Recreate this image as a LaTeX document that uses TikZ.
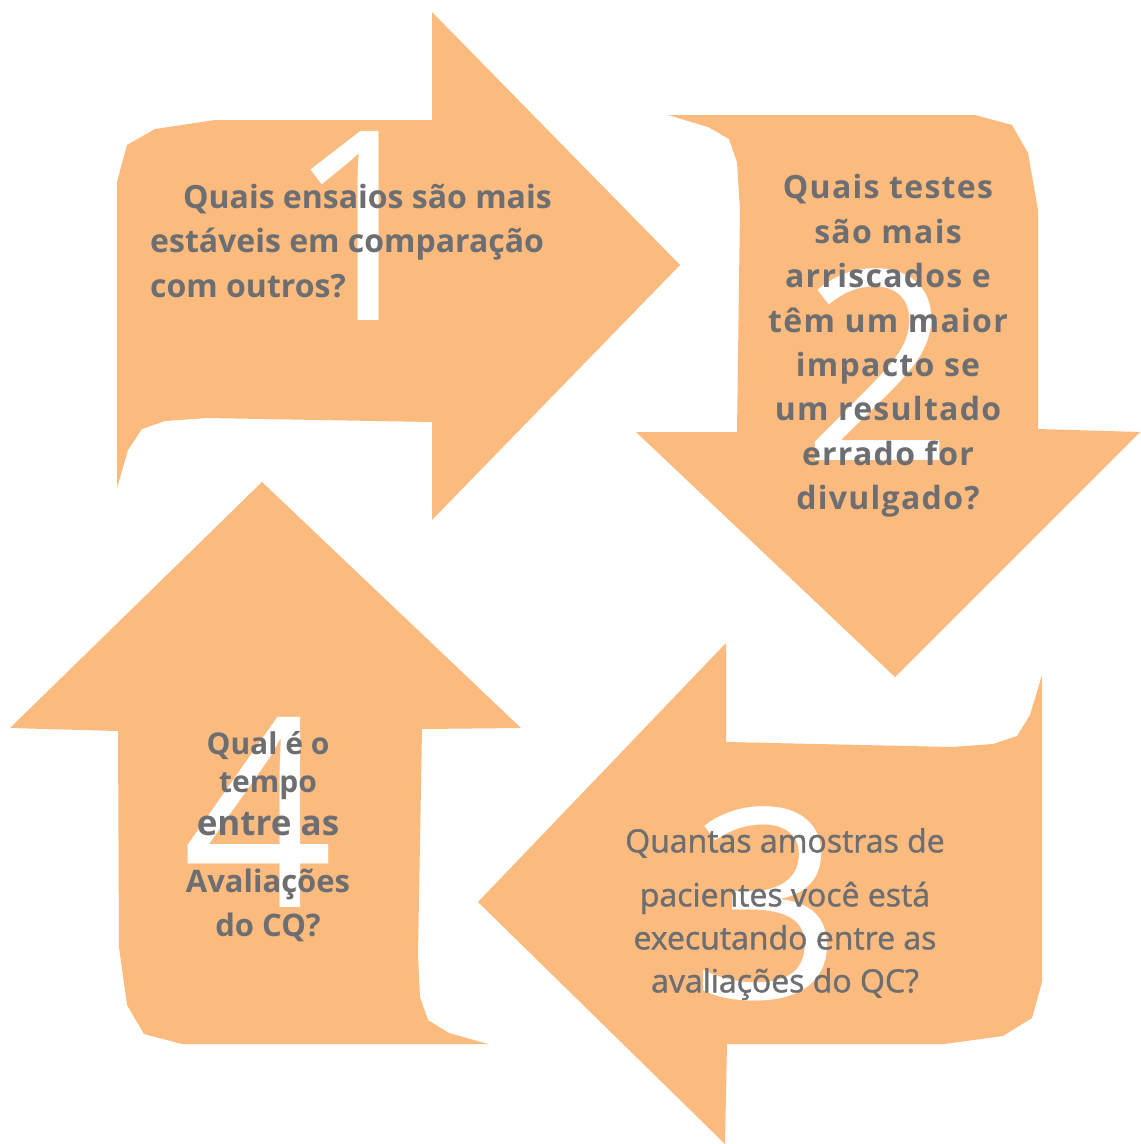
\documentclass[tikz,border=0pt]{standalone}
\usepackage{fontspec}
\setmainfont{Open Sans}
\newfontfamily\numfont{Open Sans}
\definecolor{arrowfill}{HTML}{FBBA7E}
\definecolor{txtgray}{HTML}{6D6E71}
\begin{document}
\begin{tikzpicture}[x=1pt,y=-1pt,
  shapefill/.style={fill=arrowfill,draw=none},
  bignum/.style={text=white,font=\numfont\fontsize{265}{265}\selectfont,inner sep=0pt,anchor=base},
  qtext/.style={text=txtgray,inner sep=0pt,font=\bfseries\fontsize{32}{44.4}\selectfont}]
\useasboundingbox (0,0) rectangle (1141,1144);
% arrow 1 (right)
\path[shapefill] (117,488) -- (128,450) -- (142,429) -- (165,421) -- (207,418) -- (432,422) -- (432,520) -- (680,265) -- (432,12) -- (432,120) -- (215,120) -- (155,129) -- (127,145) -- (117,182) -- cycle;
% arrow 2 (down)
\path[shapefill] (668,115) -- (975,115) -- (1012,125) -- (1028,153) -- (1038,210) -- (1038,429) -- (1140,432) -- (895,677) -- (636,432) -- (737,432) -- (740,210) -- (737,162) -- (729,139) -- (708,127) -- cycle;
% arrow 3 (left)
\path[shapefill] (726,742) -- (952,747) -- (993,744) -- (1017,736) -- (1030,715) -- (1042,675) -- (1042,982) -- (1032,1018) -- (1003,1036) -- (944,1044) -- (727,1044) -- (725,1144) -- (478,902) -- (726,643) -- cycle;
% arrow 4 (up)
\path[shapefill] (262,482) -- (521,728) -- (422,729) -- (418,955) -- (420,997) -- (428,1020) -- (449,1033) -- (488,1044) -- (182,1044) -- (144,1034) -- (127,1005) -- (119,947) -- (118,731) -- (10,728) -- cycle;
% numbers
\node[bignum] (n1) at (362,320) {1};
\node[bignum] (n2) at (878,460) {2};
\node[bignum] (n3) at (767,998) {3};
\node[bignum] (n4) at (258,907) {4};
% texts
\node[qtext,anchor=west,align=left] (t1) at (150,241) {\hspace*{33pt}Quais ensaios são mais\\estáveis em comparação\\com outros?};
\node[qtext,align=center,font=\bfseries\fontsize{32}{44.4}\selectfont\addfontfeatures{LetterSpace=4}] (t2) at (888,346) {Quais testes\\são mais\\arriscados e\\têm um maior\\impacto se\\um resultado\\errado for\\divulgado?};
\node[qtext,align=center,font=\mdseries\fontsize{32}{43}\selectfont\addfontfeatures{FakeBold=1.2}] (t3) at (785,914) {Quantas amostras de\\[11pt]pacientes você está\\executando entre as\\avaliações do QC?};
\node[qtext,align=center,font=\bfseries\fontsize{30}{38}\selectfont] (t4a) at (268,766) {Qual é o\\tempo};
\node[qtext,align=center,font=\bfseries\fontsize{35}{44}\selectfont] (t4m) at (268,824) {entre as};
\node[qtext,align=center,font=\bfseries\fontsize{31}{44}\selectfont] (t4b) at (268,905) {Avaliações\\do CQ?};
\end{tikzpicture}
\end{document}
